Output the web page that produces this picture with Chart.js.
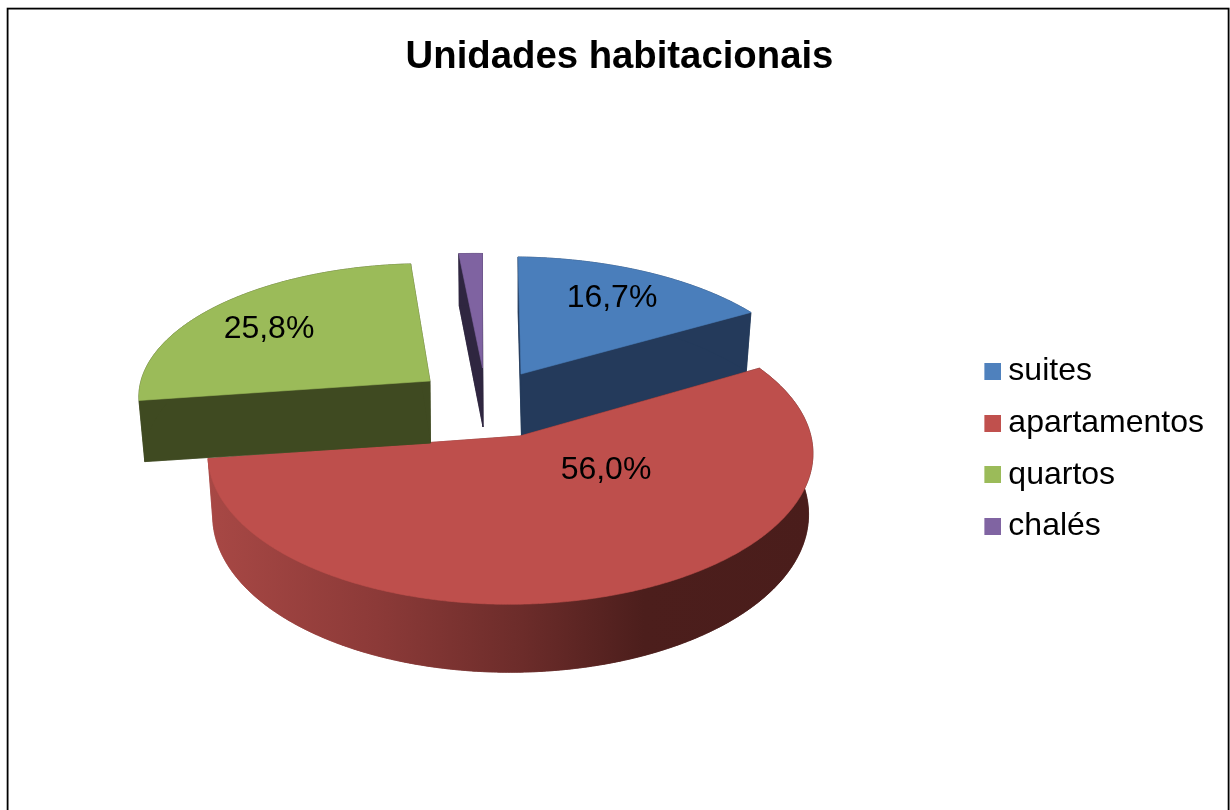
<!DOCTYPE html>
<html lang="pt">
<head>
<meta charset="utf-8">
<title>Unidades habitacionais</title>
<style>html,body{margin:0;padding:0;background:#fff}canvas{display:block}</style>
<script src="https://cdn.jsdelivr.net/npm/chart.js@4"></script>
</head>
<body>
<div style="width:1230px;height:810px"><canvas id="c" width="1230" height="810"></canvas></div>
<script>
const chartTitle = 'Unidades habitacionais';
const categories = ['suites', 'apartamentos', 'quartos', 'chalés'];
const values = [16.7, 56.0, 25.8, 1.5];
const dataLabels = ['16,7%', '56,0%', '25,8%', ''];

const topColors = ['#4F81BD', '#C0504D', '#9BBB59', '#8064A2'];
const faceColors = ['#4A7EBB', '#BE4F4C', '#9BBB59', '#7F63A1'];
const wallColors = ['#243A5B', null, '#3F4A21', '#2F2640'];

// Perspective look of the exploded 3D pie (style only, slice angles come from Chart.js)
const slicePose = [
  {ax: 521,   ay: 374, rx: 298, ry: 138, kv: 0.179, kx: 0.025, low: 0.98,  dep: 62, base: 63, lx: 91,   ly: -76},
  {ax: 520,   ay: 436, rx: 300, ry: 148, kv: 0.12,  kx: 0,     low: 0.985, dep: 60, base: 60, lx: 86,   ly: 34},
  {ax: 430,   ay: 381, rx: 280, ry: 129, kv: 0.1,   kx: -0.04, low: 0.98,  dep: 62, base: 60, lx: -161, ly: -52},
  {ax: 482.5, ay: 368, rx: 297, ry: 135, kv: 0.179, kx: 0,     low: 0.98,  dep: 59, base: 60, lx: 0,    ly: 0}
];
const drawOrder = [3, 0, 1, 2];
const KU = -0.0313;

function project(pose, a) {
  const u = Math.cos(a), v = Math.sin(a);
  const w = 1 - pose.kv * v - KU * u;
  const Y = pose.ry * v / w;
  const X = pose.rx * u / w + pose.kx * Y;
  return {x: X, y: Y, v};
}
function topPt(pose, a) {
  const p = project(pose, a);
  return [pose.ax + p.x, pose.ay + p.y];
}
function lowPt(pose, a) {
  const p = project(pose, a);
  return [pose.ax + p.x * pose.low, pose.ay + p.y + pose.base + 8 * p.v];
}
function fillPoly(ctx, pts, fill) {
  ctx.beginPath();
  pts.forEach((p, i) => i ? ctx.lineTo(p[0], p[1]) : ctx.moveTo(p[0], p[1]));
  ctx.closePath();
  ctx.fillStyle = fill;
  ctx.strokeStyle = fill;
  ctx.lineWidth = 0.6;
  ctx.lineJoin = 'round';
  ctx.fill();
  ctx.stroke();
}
function drawSlice(ctx, arc, i) {
  const pose = slicePose[i];
  const a0 = arc.startAngle, a1 = arc.endAngle;
  const n = Math.max(4, Math.ceil((a1 - a0) * 120));
  const tops = [], lows = [];
  for (let k = 0; k <= n; k++) {
    const a = a0 + (a1 - a0) * k / n;
    tops.push(topPt(pose, a));
    lows.push(lowPt(pose, a));
  }
  const apexT = [pose.ax, pose.ay];
  const apexB = [pose.ax + 0.5, pose.ay + pose.dep];
  let wall = wallColors[i];
  if (!wall) {
    wall = ctx.createLinearGradient(207, 0, 814, 0);
    wall.addColorStop(0, '#A84845');
    wall.addColorStop(0.28, '#8C3A38');
    wall.addColorStop(0.52, '#6C2C2A');
    wall.addColorStop(0.72, '#4C1E1C');
    wall.addColorStop(1, '#4A1D1B');
  }
  fillPoly(ctx, [apexB, ...lows], wall);
  fillPoly(ctx, [apexT, tops[0], lows[0], apexB], wall);
  fillPoly(ctx, [apexT, tops[n], lows[n], apexB], wall);
  fillPoly(ctx, [...tops, ...lows.slice().reverse()], wall);
  fillPoly(ctx, [apexT, ...tops], faceColors[i]);
}

const pie3d = {
  id: 'pie3d',
  beforeDraw(chart) {
    const ctx = chart.ctx;
    ctx.save();
    ctx.strokeStyle = '#000';
    ctx.lineWidth = 1.8;
    ctx.strokeRect(7.6, 8.6, 1221, 900);
    ctx.restore();
  },
  beforeDatasetsDraw(chart) {
    const ctx = chart.ctx;
    const arcs = chart.getDatasetMeta(0).data;
    ctx.save();
    drawOrder.forEach(i => drawSlice(ctx, arcs[i], i));
    ctx.fillStyle = '#000';
    ctx.font = '32px "Liberation Sans", Arial, sans-serif';
    ctx.textAlign = 'center';
    ctx.textBaseline = 'middle';
    dataLabels.forEach((t, i) => {
      if (t) ctx.fillText(t, slicePose[i].ax + slicePose[i].lx, slicePose[i].ay + slicePose[i].ly);
    });
    ctx.restore();
    return false;
  }
};

function swatch(color) {
  const c = document.createElement('canvas');
  c.width = 19; c.height = 17;
  const g = c.getContext('2d');
  g.fillStyle = color;
  g.fillRect(2, 0, 17, 17);
  return c;
}
const swatches = topColors.map(swatch);

new Chart(document.getElementById('c'), {
  type: 'pie',
  data: {
    labels: categories,
    datasets: [{data: values, backgroundColor: topColors, borderWidth: 0}]
  },
  plugins: [pie3d],
  options: {
    responsive: false,
    animation: false,
    layout: {padding: {left: 25, right: 16, top: 0, bottom: 16}},
    plugins: {
      tooltip: {enabled: false},
      title: {
        display: true,
        text: chartTitle,
        color: '#000',
        font: {family: '"Liberation Sans", Arial, sans-serif', size: 38.3, weight: 'bold'},
        padding: {top: 34, bottom: 24}
      },
      legend: {
        display: true,
        position: 'right',
        align: 'center',
        fullSize: false,
        labels: {
          color: '#000',
          font: {family: '"Liberation Sans", Arial, sans-serif', size: 32},
          usePointStyle: true,
          pointStyleWidth: 1,
          boxHeight: 17,
          padding: 19.7,
          generateLabels(chart) {
            const base = Chart.overrides.pie.plugins.legend.labels.generateLabels(chart);
            return base.map((it, i) => Object.assign(it, {pointStyle: swatches[i]}));
          }
        }
      }
    }
  }
});
</script>
</body>
</html>
